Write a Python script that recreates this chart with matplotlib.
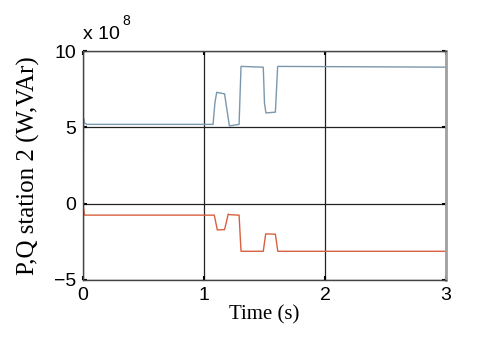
import matplotlib.pyplot as plt

# time (s) and values (x 10^8)
t_p = [0, 0.004, 0.012, 0.03, 1.075, 1.09, 1.105, 1.17, 1.185, 1.21, 1.29, 1.306, 1.49, 1.50, 1.512, 1.59, 1.609, 3.0]
p_vals = [0.0, 5.6, 5.3, 5.2, 5.2, 6.6, 7.3, 7.2, 6.4, 5.1, 5.2, 9.0, 8.95, 6.6, 5.95, 6.0, 9.0, 8.95]

t_q = [0, 0.004, 0.012, 0.03, 1.085, 1.11, 1.17, 1.185, 1.20, 1.21, 1.29, 1.306, 1.49, 1.51, 1.59, 1.61, 3.0]
q_vals = [0.0, -0.3, -0.75, -0.75, -0.75, -1.72, -1.7, -1.2, -0.68, -0.72, -0.75, -3.12, -3.12, -1.98, -2.0, -3.12, -3.12]

xticks = [0, 1, 2, 3]
yticks = [-5, 0, 5, 10]

fig = plt.figure(figsize=(4.8, 3.41), dpi=100)
ax = fig.add_axes([0.173, 0.179, 0.756, 0.671])

ax.plot(t_p, p_vals, color="#7a98ad", lw=1.0)
ax.plot(t_q, q_vals, color="#d8603e", lw=1.0)

ax.set_xlim(0, 3)
ax.set_ylim(-5, 10)
ax.set_xticks(xticks)
ax.set_yticks(yticks)
ax.grid(True, color="#222222", lw=0.9, ls="-")
ax.tick_params(direction="in", length=3, width=1.5, top=True, right=True,
               labelsize=14, pad=5)
for lab in ax.get_xticklabels() + ax.get_yticklabels():
    lab.set_fontfamily("Liberation Sans")

for side in ["top", "left", "bottom"]:
    ax.spines[side].set_color("#444444")
    ax.spines[side].set_linewidth(1.0)
ax.spines["right"].set_color("#a0a0a0")
ax.spines["right"].set_linewidth(2.0)

ax.set_xlabel("Time (s)", family="Liberation Serif", fontsize=15, labelpad=1)
ax.set_ylabel("P,Q station 2 (W,VAr)", family="Liberation Serif", fontsize=18, labelpad=10)

fig.text(0.173, 0.875, "x 10", family="Liberation Sans", fontsize=14, ha="left", va="bottom")
fig.text(0.255, 0.918, "8", family="Liberation Sans", fontsize=10, ha="left", va="bottom")

fig.savefig("out.png", dpi=100)
